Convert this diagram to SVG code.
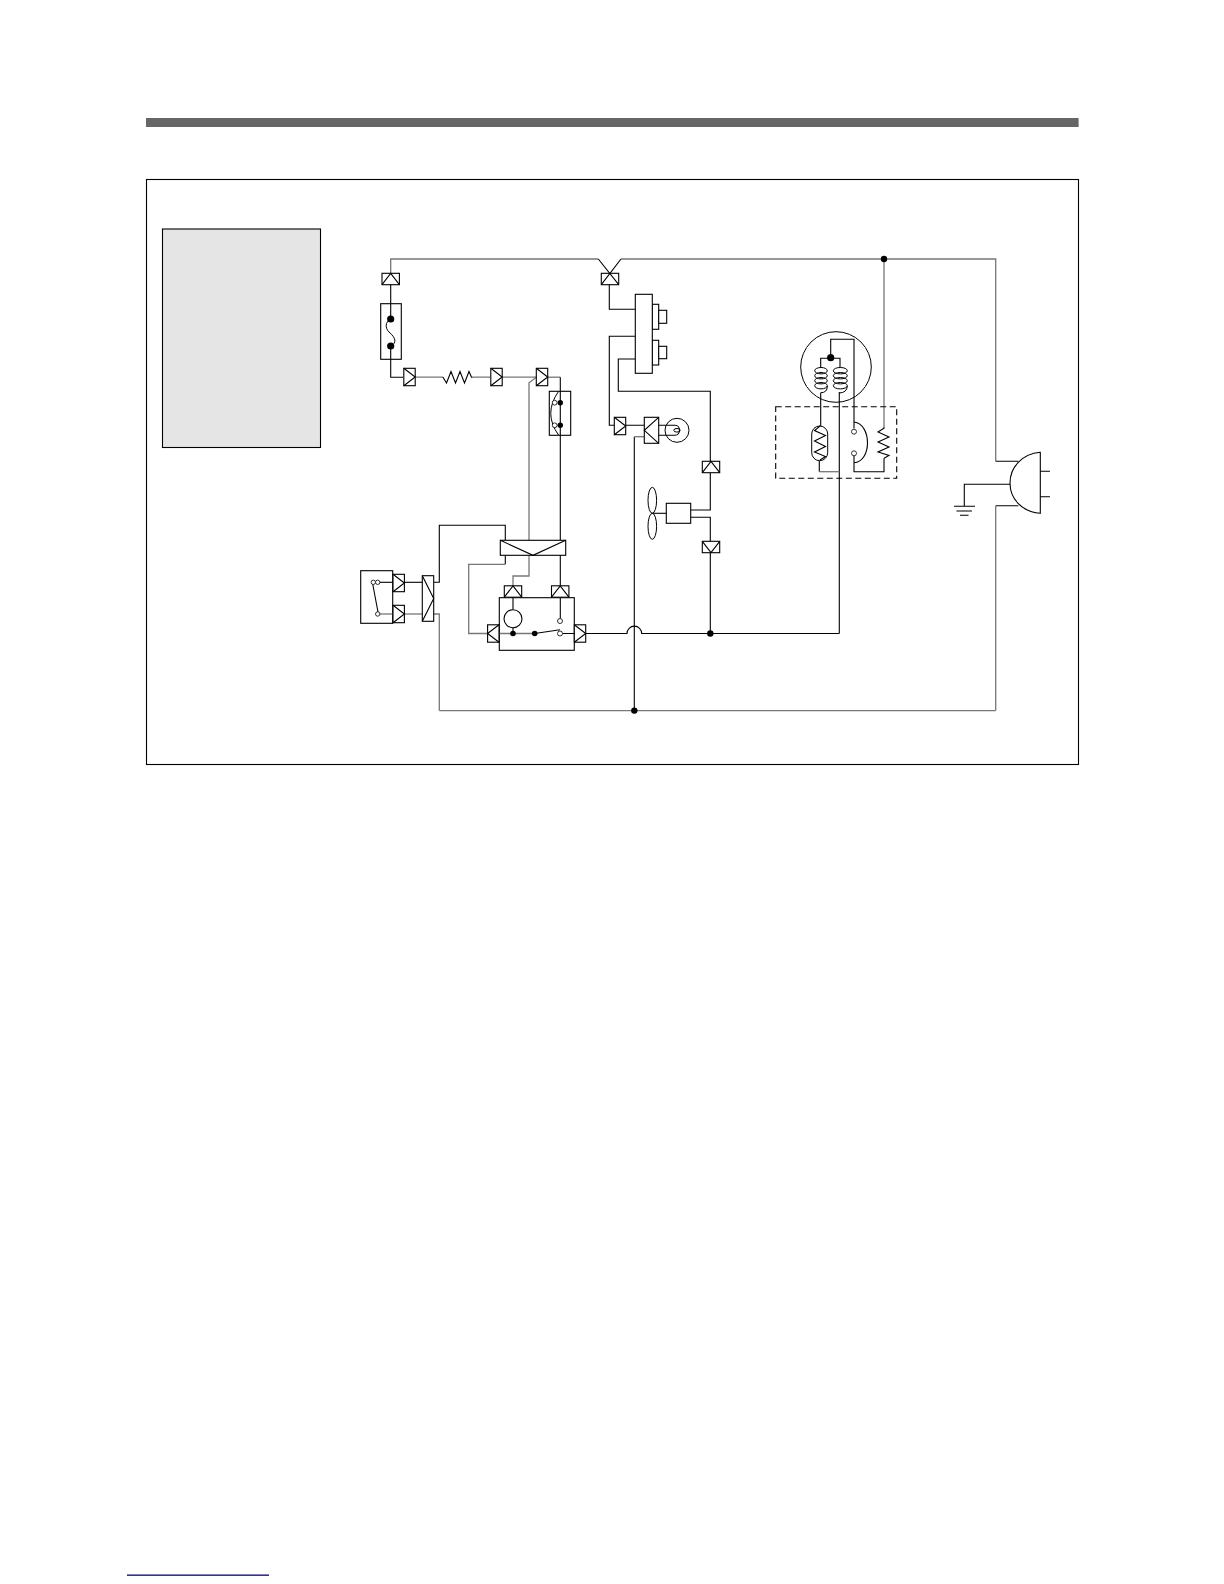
<svg xmlns="http://www.w3.org/2000/svg" width="1224" height="1584" viewBox="0 0 1224 1584">
<style>
.b{fill:none;stroke:#000;stroke-width:1.1}
.g{fill:none;stroke:#777;stroke-width:1.3}
.t{fill:none;stroke:#000;stroke-width:1}
.w{fill:#fff;stroke:#000;stroke-width:1.1}
.d{fill:#000;stroke:none}
.o{fill:#fff;stroke:#000;stroke-width:.8}
</style>
<defs>
<g id="cu"><rect class="w" x="-8.7" y="-5.7" width="17.4" height="11.4"/><polyline class="b" points="-8.7,5.7 0,-5.7 8.7,5.7"/></g>
</defs>
<rect x="146" y="118" width="932.6" height="9" fill="#666"/>
<rect class="b" x="146.5" y="179.5" width="932" height="585"/>
<rect x="162.5" y="229" width="158" height="218.5" fill="#e5e5e5" stroke="#000" stroke-width="1.1"/>
<rect x="127" y="1574.5" width="142" height="1.3" fill="#000080"/>
<g id="connectors">
<path class="g" d="M390.7 273V259H598.3M621 259H995.7V461.3"/>
<path class="b" d="M995.7 461.3H1018.3M995.7 505.7H1018.3"/>
<path class="g" d="M995.7 505.7V710.6"/>
<path class="b" d="M598.3 259L618.7 284.7M621 259L601.3 284.7"/>
<path class="b" d="M390.7 273V304M390.7 359V377.2H403.3"/>
<path class="g" d="M415.7 377.2H442.3M472.7 377.2H490.3M502.7 377.2H536.3"/>
<path class="g" d="M547.7 377.2H560.3"/>
<path class="g" d="M536.3 377.2L529 382.8V540.3"/>
<path class="b" d="M560.3 377.2V540.3M560.3 555.3V585.3"/>
<path class="g" d="M529 555.3V576H513V585.3"/>
<path class="b" d="M433.7 582.3H439.3V525.3H505.3V540.3"/>
<path class="g" d="M433.7 614H439.3V710.6"/>
<path class="b" d="M404.7 582.3H422.3"/>
<path class="g" d="M404.7 614H422.3"/>
<path class="b" d="M505.3 555.3V564.3"/>
<path class="g" d="M505.3 564.3H468.7V633.5H487.3"/>
<path class="b" d="M585.7 633.5H627A7.3 7.3 0 0 1 641.7 633.5H839.3"/>
<path class="b" d="M634.3 436.7V710.6"/>
<path class="g" d="M634.3 436.7H644.3"/>
<path class="g" d="M439.3 710.6H995.7"/>
<path class="b" d="M609.3 284.7V309.3H635.3M635.3 336.3H609.3V425.3H614.3M625.7 425.3H644.3"/>
<path class="b" d="M635.3 359H618.3V391.3H710.3V461.3M710.3 472.7V510H690.7M690.7 517.3H710.3V541.3M710.3 552.7V633.5"/>
<path class="b" d="M839.3 392V633.5"/>
<path class="g" d="M884 259V426.7"/>
<path class="b" d="M884 458.3V471.7H854V462.7"/>
<path class="b" d="M819.3 460.7V471.7"/>
<path class="g" d="M819.3 471.7H839.3"/>
<path class="b" d="M820.7 392.7V426"/>
<circle class="d" cx="884" cy="259" r="3.2"/>
<circle class="d" cx="710.3" cy="633.5" r="3.2"/>
<circle class="d" cx="634.3" cy="710.6" r="3.2"/>
</g>
<g id="conn-top-left"><use href="#cu" x="390.7" y="279"/></g>
<g id="conn-top-mid"><rect class="b" x="601.3" y="273.3" width="17.4" height="11.4"/></g>
<g id="fuse">
<rect class="w" x="380.7" y="303.7" width="20.6" height="55.6"/>
<path class="b" d="M390.7 304V319M390.7 346V359"/>
<path class="t" d="M390.7 319C385 322 385 328 389 332C396 338 397 343 390.7 346"/>
<circle class="d" cx="390.7" cy="319" r="3.6"/><circle class="d" cx="390.7" cy="346" r="3.6"/>
</g>
<g id="conn-a"><use href="#cu" transform="translate(409.5 377) rotate(90)"/></g>
<g id="resistor"><polyline class="b" points="442.3,377.2 443,377.2 446.5,383 451,371.5 455.5,383 460,371.5 464.5,383 469,371.5 471.5,377.2 472.7,377.2"/></g>
<g id="conn-b"><use href="#cu" transform="translate(496.5 377) rotate(90)"/></g>
<g id="conn-c"><use href="#cu" transform="translate(542 377) rotate(90)"/></g>
<g id="relay">
<rect class="w" x="549.3" y="391.3" width="21.4" height="44"/>
<path class="b" d="M560.3 391.3V435.3"/>
<path class="t" d="M558.5 391.5Q543 413.3 558.5 435"/>
<circle class="o" cx="554.7" cy="402.7" r="2.4"/><circle class="o" cx="554.7" cy="425.3" r="2.4"/>
<circle class="d" cx="560.3" cy="402.7" r="2.7"/><circle class="d" cx="560.3" cy="425.3" r="2.7"/>
</g>
<g id="door-switch">
<rect class="w" x="360.7" y="570.7" width="32" height="52.6"/>
<path class="b" d="M379.7 582.3H392.7"/><path class="g" d="M380 614H392.7"/>
<path class="b" d="M372.7 584L378 612"/>
<circle class="o" cx="373.3" cy="582.3" r="2.2"/><circle class="o" cx="377.7" cy="582.3" r="2.2"/><circle class="o" cx="377.7" cy="614" r="2.2"/>
</g>
<g id="conn-d"><use href="#cu" transform="translate(398.7 583) rotate(90)"/></g>
<g id="conn-e"><use href="#cu" transform="translate(398.7 614) rotate(90)"/></g>
<g id="conn-f"><rect class="w" x="422.3" y="575.7" width="11.4" height="45.6"/><polyline class="b" points="422.3,575.7 433.7,598.5 422.3,621.3"/></g>
<g id="conn-g"><rect class="w" x="500.3" y="540.3" width="65.4" height="15"/><polyline class="b" points="500.3,540.3 533,555.3 565.7,540.3"/></g>
<g id="timer">
<rect class="w" x="499.3" y="597.7" width="75" height="52.6"/>
<path class="b" d="M513 597.7V609.7M513 627.7V633.5"/>
<path class="g" d="M499.3 633.5H534.7"/>
<circle class="w" cx="513" cy="618.7" r="9"/>
<path class="b" d="M560.3 597.7V618.5M562.5 633.5H574.3"/>
<path class="b" d="M534.7 633.5L560 629.8"/>
<circle class="o" cx="560" cy="621" r="2.5"/><circle class="o" cx="560" cy="633.5" r="2.5"/>
<circle class="d" cx="513" cy="633.5" r="2.8"/><circle class="d" cx="534.7" cy="633.5" r="2.8"/>
</g>
<g id="conn-h"><use href="#cu" transform="translate(493.3 633.5) rotate(-90)"/></g>
<g id="conn-i"><use href="#cu" transform="translate(580 633.5) rotate(90)"/></g>
<g id="conn-j"><use href="#cu" x="513" y="591.5"/></g>
<g id="conn-k"><use href="#cu" x="560.2" y="591.5"/></g>
<g id="selector">
<rect class="w" x="652.3" y="304.3" width="6.4" height="25"/><rect class="w" x="652.3" y="340.3" width="6.4" height="24.7"/>
<rect class="w" x="658.7" y="310.3" width="8" height="13"/><rect class="w" x="658.7" y="346.3" width="8" height="12.4"/>
<rect class="w" x="635.3" y="294.3" width="17" height="79"/>
</g>
<g id="conn-l"><use href="#cu" transform="translate(620 426) rotate(90)"/></g>
<g id="conn-m"><rect class="w" x="644.3" y="417.3" width="14.4" height="26"/><polyline class="b" points="658.7,417.3 644.3,430.3 658.7,443.3"/></g>
<g id="lamp">
<circle class="t" cx="677" cy="430.3" r="12"/>
<path class="b" d="M658.7 425.3H675C681 425.3 681 435.3 675 435.3H658.7"/>
<ellipse class="t" cx="677" cy="430.3" rx="3.2" ry="1.8"/>
</g>
<g id="conn-n"><use href="#cu" x="711" y="467"/></g>
<g id="conn-o"><use href="#cu" transform="translate(711 547) rotate(180)"/></g>
<g id="fan">
<rect class="w" x="666.3" y="503.3" width="24.4" height="20"/>
<path class="b" d="M652.3 513.3H666.3"/>
<ellipse class="t" cx="652.3" cy="500.3" rx="4.3" ry="13"/><ellipse class="t" cx="652.3" cy="526.3" rx="4.3" ry="13"/>
</g>
<g id="compressor">
<circle class="t" cx="836" cy="367" r="35.3"/>
<path class="b" d="M830.7 357.7V339.3H854V422"/>
<path class="b" d="M820.7 367.5V358.3H840V367.5"/>
<path class="t" d="M827.3 386Q827.5 392.7 820.7 392.7M847.3 386Q847 392.7 839.3 393"/>
<g class="t"><ellipse cx="821" cy="370.7" rx="6.3" ry="3.2"/><ellipse cx="821" cy="375.7" rx="6.3" ry="3.2"/><ellipse cx="821" cy="380.7" rx="6.3" ry="3.2"/><ellipse cx="821" cy="385.7" rx="6.3" ry="3.2"/><ellipse cx="840.3" cy="370.7" rx="7" ry="3.2"/><ellipse cx="840.3" cy="375.7" rx="7" ry="3.2"/><ellipse cx="840.3" cy="380.7" rx="7" ry="3.2"/><ellipse cx="840.3" cy="385.7" rx="7" ry="3.2"/></g>
<circle class="d" cx="830.7" cy="357.7" r="3.6"/>
</g>
<g id="protector" >
<rect x="775.7" y="406.7" width="121" height="71.6" fill="none" stroke="#000" stroke-width="1.1" stroke-dasharray="6 3.5"/>
<rect class="t" x="811.7" y="426" width="16" height="34.7" rx="8" ry="8"/>
<polyline class="b" points="820,426 814.5,430.5 825.5,435.5 814.5,441 825.5,446.5 814.5,452 825.5,456.5 820,460"/>
<path class="b" d="M854 422C872 424 872 462 854 462.7"/>
<path class="b" d="M854 422V428.5M854 455.8V462.7"/>
<circle class="o" cx="854" cy="431.7" r="2.5"/><circle class="o" cx="854" cy="453.3" r="2.5"/>
<polyline class="b" points="884,426.7 884,428.3 878,432 889,437 878,442 889,447 878,452 889,455.5 884,458.3"/>
</g>
<g id="plug">
<path class="w" d="M1040.3 452.3V513.3C1022 512 1010 499 1010 483C1010 467 1022 454 1040.3 452.3Z"/>
<path class="b" d="M1040.3 471.3H1050M1040.3 496.7H1050"/>
</g>
<g id="ground">
<path class="b" d="M1010 484.3H964.3V506.3M954 506.3H975M956.5 511H972M960 515.3H968.5"/>
</g>
</svg>
